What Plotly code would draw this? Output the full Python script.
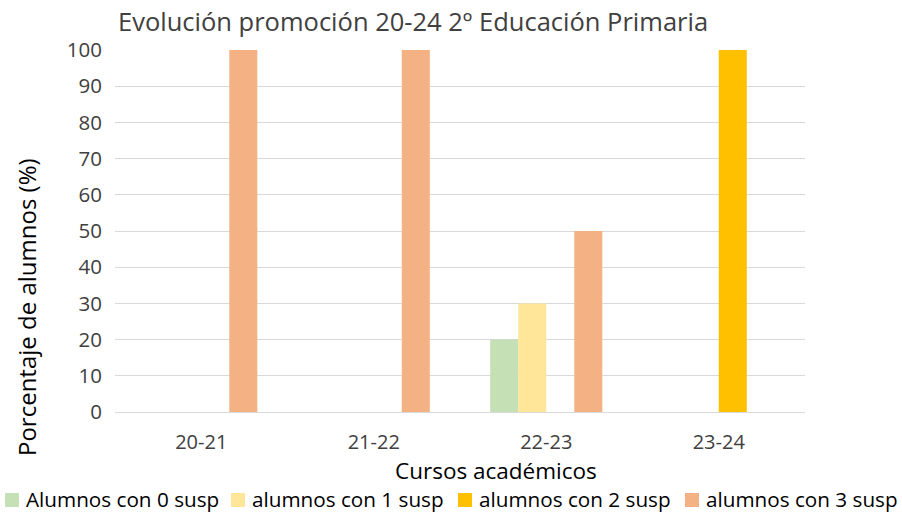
import plotly.graph_objects as go

categories = ["20-21", "21-22", "22-23", "23-24"]
series_names = ["Alumnos con 0 susp", "alumnos con 1 susp", "alumnos con 2 susp", "alumnos con 3 susp"]
s0 = [0, 0, 20, 0]
s1 = [0, 0, 30, 0]
s2 = [0, 0, 0, 100]
s3 = [100, 100, 50, 0]
colors = ["#C5E0B4", "#FFE699", "#FFC000", "#F4B183"]

FONT = "Open Sans"
W, H = 902, 519
ML, MR, MT, MB = 115, 97, 50, 107
PW, PH = W - ML - MR, H - MT - MB


def px(x):
    return (x - ML) / PW


def py(y):
    return (H - MB - y) / PH


fig = go.Figure()
for name, vals, c in zip(series_names, [s0, s1, s2, s3], colors):
    fig.add_trace(go.Bar(x=categories, y=vals, name=name, marker=dict(color=c, line=dict(width=0)),
                         hoverinfo="skip"))

annotations = [
    dict(text="Porcentaje de alumnos (%)", textangle=-90, x=px(26), y=py(307), xref="paper", yref="paper",
         xanchor="center", yanchor="middle", showarrow=False, font=dict(size=24, color="#000000")),
    dict(text="Cursos académicos", x=px(496), y=py(470), xref="paper", yref="paper",
         xanchor="center", yanchor="middle", showarrow=False, font=dict(size=22.5, color="#000000")),
]
shapes = []
legend_x = [5, 231, 458, 685]
for name, c, lx in zip(series_names, colors, legend_x):
    shapes.append(dict(type="rect", xref="paper", yref="paper", x0=px(lx), x1=px(lx + 14),
                       y0=py(507), y1=py(493), fillcolor=c, line=dict(width=0)))
    annotations.append(dict(text=name, x=px(lx + 19), y=py(499), xref="paper", yref="paper",
                            xanchor="left", yanchor="middle", showarrow=False,
                            font=dict(size=20.7, color="#000000")))

fig.update_layout(
    width=W, height=H,
    paper_bgcolor="white", plot_bgcolor="white",
    margin=dict(l=ML, r=MR, t=MT, b=MB, autoexpand=False),
    barmode="group", bargap=0.35, bargroupgap=0,
    font=dict(family=FONT, color="#404040"),
    title=dict(text="Evolución promoción 20-24 2º Educación Primaria",
               x=118 / W, xanchor="left", y=1 - 22 / H, yanchor="middle",
               font=dict(size=25.5, color="#404040", family=FONT)),
    xaxis=dict(showgrid=False, showline=False, ticks="", ticklabelstandoff=16,
               tickfont=dict(size=20, color="#404040")),
    yaxis=dict(range=[0, 100], dtick=10, showgrid=True, gridcolor="#D9D9D9", gridwidth=1.3,
               zeroline=True, zerolinecolor="#D9D9D9", zerolinewidth=1.3,
               showline=False, ticks="", ticklabelstandoff=12,
               tickfont=dict(size=20.5, color="#404040")),
    showlegend=False,
    hovermode=False,
    annotations=annotations,
    shapes=shapes,
)
fig.write_html("out.html", config={"displayModeBar": False},
               post_script="document.body.style.margin='0';")
